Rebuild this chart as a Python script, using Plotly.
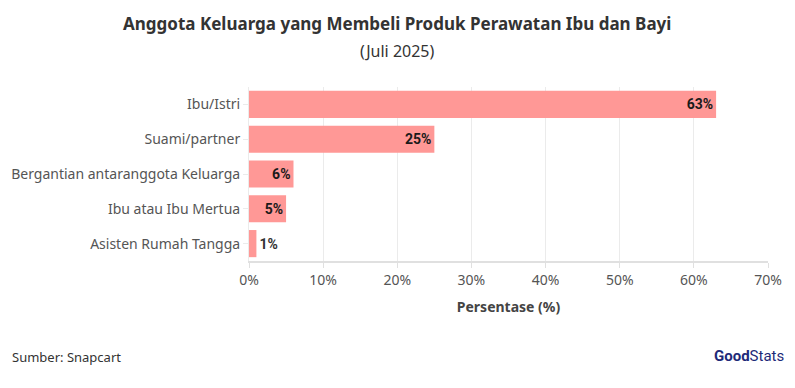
import plotly.graph_objects as go

categories = ["Ibu/Istri", "Suami/partner", "Bergantian antaranggota Keluarga", "Ibu atau Ibu Mertua", "Asisten Rumah Tangga"]
values = [63, 25, 6, 5, 1]
labels = ["63%", "25%", "6%", "5%", "1%"]
tick_vals = [0, 10, 20, 30, 40, 50, 60, 70]
tick_text = ["0%", "10%", "20%", "30%", "40%", "50%", "60%", "70%"]

positions = ["inside" if v >= 3 else "outside" for v in values]

# page body has an 8px margin; figure coordinates = screen coordinates - 8
OFF = 8
FW, FH = 795 - OFF, 388 - OFF
L, T = 249 - OFF, 87 - OFF
R = FW - (768 - OFF)
B = FH - (261 - OFF)
W = FW - L - R
H = FH - T - B

def px(xs, ys):
    xp, yp = xs - OFF, ys - OFF
    return (xp - L) / W, (FH - B - yp) / H

fig = go.Figure(go.Bar(
    x=values, y=categories, orientation="h",
    marker=dict(color="#ff9896", line=dict(width=0)),
    text=labels, textposition=positions, insidetextanchor="end",
    textfont=dict(family="Roboto", size=14, color="#1a1a1a", weight="bold"),
    outsidetextfont=dict(family="Roboto", size=14, color="#333333", weight="bold"),
    cliponaxis=False,
))

anns = []
def add_ann(text, xs, ys, xanchor, font):
    x, y = px(xs, ys)
    anns.append(dict(text=text, x=x, y=y, xref="paper", yref="paper", xanchor=xanchor,
                     yanchor="middle", showarrow=False, font=font))

add_ann("<b>Anggota Keluarga yang Membeli Produk Perawatan Ibu dan Bayi</b>", 397, 23, "center",
        dict(family="Noto Sans", size=17, color="#333333"))
add_ann("(Juli 2025)", 397, 51, "center", dict(family="Noto Sans", size=16, color="#333333"))
add_ann("Sumber: Snapcart", 10, 357, "left", dict(family="Noto Sans", size=13, color="#333333"))
add_ann("<b>Good</b>Stats", 786, 356, "right", dict(family="Roboto", size=15, color="#1e2a78"))

fig.update_layout(
    width=FW, height=FH,
    margin=dict(l=L, r=R, t=T, b=B, autoexpand=False),
    paper_bgcolor="white", plot_bgcolor="white",
    bargap=0.22,
    showlegend=False,
    font=dict(family="Noto Sans", color="#555555"),
    xaxis=dict(range=[0, 70], tickvals=tick_vals, ticktext=tick_text,
               showgrid=True, gridcolor="#ebebeb", gridwidth=1,
               showline=True, linecolor="#e0e0e0", linewidth=2,
               ticks="outside", ticklen=5, tickcolor="#e0e0e0",
               tickfont=dict(size=14, color="#555555"), zeroline=False,
               title=dict(text="Persentase (%)", font=dict(size=14, color="#444444", weight="bold"), standoff=14)),
    yaxis=dict(categoryorder="array", categoryarray=categories[::-1],
               showline=True, linecolor="#ebebeb", linewidth=1,
               ticks="outside", ticklen=5, tickcolor="#ebebeb",
               tickfont=dict(size=14, color="#555555"), showgrid=False),
    annotations=anns,
)

fig.write_html("out.html")
